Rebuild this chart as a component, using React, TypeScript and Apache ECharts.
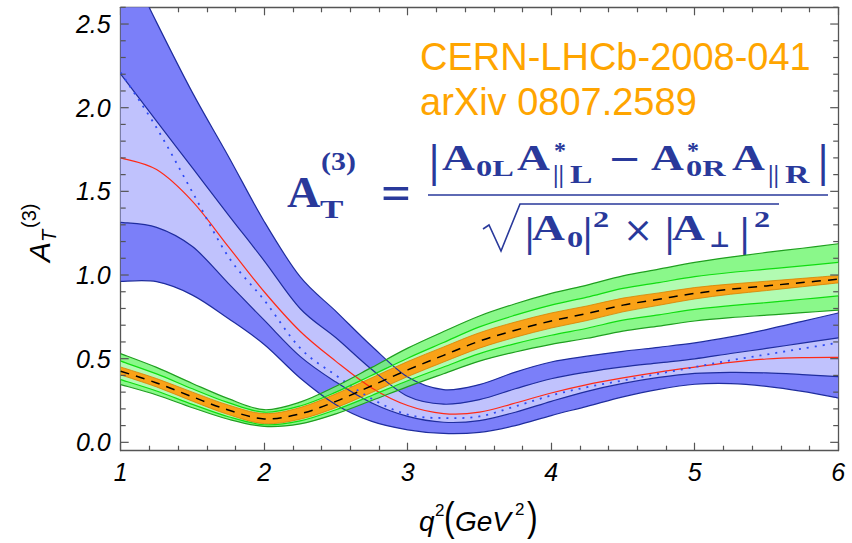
import React, { useEffect, useRef } from 'react';
import * as echarts from 'echarts';

// ---------- data ----------
const xs = [1, 1.25, 1.5, 1.75, 2, 2.25, 2.5, 2.75, 3, 3.25, 3.5, 3.75, 4, 4.25, 4.5, 4.75, 5, 5.25, 5.5, 5.75, 6];

// blue (model) band
const blueOuterHi = [2.95, 2.51, 2.09, 1.71, 1.32, 0.99, 0.783, 0.574, 0.39, 0.315, 0.345, 0.42, 0.48, 0.515, 0.544, 0.568, 0.594, 0.63, 0.674, 0.723, 0.773];
const blueInnerHi = [2.2, 1.92, 1.64, 1.36, 1.085, 0.8, 0.625, 0.435, 0.275, 0.228, 0.255, 0.32, 0.38, 0.42, 0.451, 0.475, 0.499, 0.531, 0.561, 0.593, 0.624];
const redCentral = [1.7, 1.63, 1.44, 1.17, 0.9, 0.664, 0.484, 0.325, 0.22, 0.172, 0.18, 0.235, 0.295, 0.345, 0.385, 0.42, 0.45, 0.478, 0.498, 0.506, 0.508];
const blueDotted = [2.21, 1.88, 1.495, 1.11, 0.85, 0.564, 0.4, 0.26, 0.165, 0.145, 0.155, 0.215, 0.28, 0.33, 0.37, 0.41, 0.45, 0.49, 0.525, 0.56, 0.595];
const blueInnerLo = [1.315, 1.285, 1.17, 0.95, 0.73, 0.514, 0.36, 0.235, 0.155, 0.12, 0.13, 0.18, 0.245, 0.305, 0.352, 0.388, 0.412, 0.418, 0.415, 0.405, 0.393];
const blueOuterLo = [0.962, 0.96, 0.88, 0.74, 0.585, 0.385, 0.225, 0.125, 0.075, 0.053, 0.06, 0.1, 0.16, 0.215, 0.272, 0.317, 0.347, 0.351, 0.335, 0.305, 0.265];

// green / orange (SM) band
const greenOuterHi = [0.53, 0.448, 0.352, 0.261, 0.195, 0.24, 0.335, 0.448, 0.563, 0.662, 0.755, 0.828, 0.89, 0.94, 0.995, 1.035, 1.075, 1.107, 1.135, 1.16, 1.187];
const greenInnerHi = [0.485, 0.409, 0.32, 0.237, 0.18, 0.217, 0.3, 0.401, 0.503, 0.597, 0.69, 0.76, 0.82, 0.868, 0.92, 0.955, 0.99, 1.015, 1.035, 1.055, 1.075];
const orangeHi = [0.45, 0.381, 0.3, 0.223, 0.172, 0.208, 0.29, 0.386, 0.483, 0.57, 0.655, 0.719, 0.773, 0.815, 0.862, 0.893, 0.925, 0.946, 0.963, 0.98, 0.997];
const blackDashed = [0.425, 0.355, 0.272, 0.193, 0.14, 0.17, 0.245, 0.338, 0.433, 0.52, 0.605, 0.67, 0.725, 0.77, 0.82, 0.855, 0.89, 0.915, 0.935, 0.955, 0.975];
const orangeLo = [0.403, 0.331, 0.246, 0.166, 0.112, 0.138, 0.207, 0.298, 0.393, 0.48, 0.563, 0.628, 0.683, 0.728, 0.78, 0.819, 0.857, 0.885, 0.907, 0.93, 0.953];
const greenInnerLo = [0.375, 0.307, 0.227, 0.153, 0.105, 0.128, 0.195, 0.28, 0.368, 0.45, 0.53, 0.59, 0.64, 0.682, 0.73, 0.762, 0.795, 0.817, 0.835, 0.855, 0.875];
const greenOuterLo = [0.345, 0.283, 0.207, 0.138, 0.095, 0.11, 0.17, 0.25, 0.333, 0.41, 0.485, 0.54, 0.585, 0.622, 0.665, 0.695, 0.725, 0.745, 0.76, 0.775, 0.79];

// axes
const xTickValues = [1, 2, 3, 4, 5, 6];
const xTickLabels = ['1', '2', '3', '4', '5', '6'];
const yTickValues = [0, 0.5, 1, 1.5, 2, 2.5];
const yTickLabels = ['0.0', '0.5', '1.0', '1.5', '2.0', '2.5'];
const yMinorTicks = Array.from({ length: 27 }, (_, k) => k / 10);

// ---------- styling ----------
const FRAME = '#555555';
const NAVY = '#29399b';
const SERIF = '"Liberation Serif", "DejaVu Serif", serif';
const DJ = '"DejaVu Serif", serif';
const SANS = '"Liberation Sans", Arial, sans-serif';

function curve(pts: number[][], move: boolean): string {
  let d = (move ? 'M' : 'L') + pts[0][0] + ',' + pts[0][1];
  for (let i = 0; i < pts.length - 1; i++) {
    const p0 = pts[Math.max(i - 1, 0)];
    const p1 = pts[i];
    const p2 = pts[i + 1];
    const p3 = pts[Math.min(i + 2, pts.length - 1)];
    const c1x = p1[0] + (p2[0] - p0[0]) / 6;
    const c1y = p1[1] + (p2[1] - p0[1]) / 6;
    const c2x = p2[0] - (p3[0] - p1[0]) / 6;
    const c2y = p2[1] - (p3[1] - p1[1]) / 6;
    d += ' C' + c1x + ',' + c1y + ' ' + c2x + ',' + c2y + ' ' + p2[0] + ',' + p2[1];
  }
  return d;
}

function bandSeries(upper: number[], lower: number[], fill: string, z: number, opacity = 1) {
  return {
    type: 'custom',
    coordinateSystem: 'cartesian2d',
    clip: true,
    silent: true,
    z,
    data: [[xs[0], lower[0]]],
    renderItem: (_p: any, api: any) => {
      const top = xs.map((x, i) => api.coord([x, upper[i]]));
      const bot = xs.map((x, i) => api.coord([x, lower[i]])).reverse();
      const d = curve(top, true) + ' ' + curve(bot, false) + ' Z';
      return { type: 'path', shape: { pathData: d }, style: { fill, stroke: null, opacity } };
    },
  };
}

function lineSeries(vals: number[], stroke: string, width: number, z: number, dash?: number[]) {
  return {
    type: 'custom',
    coordinateSystem: 'cartesian2d',
    clip: true,
    silent: true,
    z,
    data: [[xs[0], vals[0]]],
    renderItem: (_p: any, api: any) => {
      const pts = xs.map((x, i) => api.coord([x, vals[i]]));
      return {
        type: 'path',
        shape: { pathData: curve(pts, true) },
        style: { fill: null, stroke, lineWidth: width, lineDash: dash || null, lineCap: 'butt' },
      };
    },
  };
}

function tx(text: string, x: number, base: number, size: number, o: any = {}) {
  return {
    type: 'text',
    x,
    y: base - 0.34 * size * (o.sy || 1),
    scaleX: o.sx || 1,
    scaleY: o.sy || 1,
    silent: true,
    style: {
      text,
      fill: o.fill || NAVY,
      fontSize: size,
      fontFamily: o.family || SERIF,
      fontWeight: o.weight || 'bold',
      fontStyle: o.italic ? 'italic' : 'normal',
      textAlign: 'left',
      textVerticalAlign: 'middle',
      verticalAlign: 'middle',
    },
  };
}

function labelFor(v: number, vals: number[], labels: string[]) {
  for (let i = 0; i < vals.length; i++) if (Math.abs(v - vals[i]) < 1e-6) return labels[i];
  return '';
}

export default function App() {
  const ref = useRef<HTMLDivElement>(null);
  useEffect(() => {
    if (!ref.current) return;
    const chart = echarts.init(ref.current, null, { renderer: 'svg' });

    const axisLabelStyle = {
      fontSize: 25,
      fontStyle: 'italic',
      fontFamily: SANS,
      color: '#000',
    };

    const W = { sx: 1.3 };
    const S = { sx: 1.35 };
    const formula = [
      tx('A', 287, 207, 44, { sx: 1.05 }),
      tx('T', 320, 218, 26, S),
      tx('(3)', 321, 170, 26, { sx: 1.15 }),
      tx('=', 381, 209, 48, { sx: 1.1 }),
      // numerator
      tx('|', 429, 176, 46),
      tx('A', 442, 170, 35, W),
      tx('0L', 476, 176, 24, S),
      tx('A', 517, 170, 35, W),
      tx('*', 554, 158, 24),
      tx('||', 553, 183, 25),
      tx('L', 570, 183, 25, S),
      tx('\u2212', 608, 172, 40, { family: DJ, weight: 'normal' }),
      tx('A', 651, 170, 35, W),
      tx('*', 687, 158, 24),
      tx('0R', 686, 176, 24, S),
      tx('A', 732, 170, 35, W),
      tx('||', 768, 183, 25),
      tx('R', 785, 183, 25, S),
      tx('|', 818, 176, 46),
      // denominator
      tx('|', 525, 246, 42),
      tx('A', 532, 240, 35, W),
      tx('0', 567, 247, 24, S),
      tx('|', 583, 246, 42),
      tx('2', 593, 227, 24, S),
      tx('\u00d7', 623, 242, 36, { family: DJ, weight: 'normal' }),
      tx('|', 665, 246, 42),
      tx('A', 672, 240, 35, W),
      tx('\u22a5', 709, 246, 22, { family: DJ }),
      tx('|', 740, 246, 42),
      tx('2', 754, 227, 24, S),
      {
        type: 'line',
        silent: true,
        shape: { x1: 428, y1: 195, x2: 828, y2: 195 },
        style: { stroke: NAVY, lineWidth: 1.6 },
      },
      {
        type: 'polyline',
        silent: true,
        shape: { points: [[483, 229], [489, 225], [501, 251], [520, 204], [779, 204]] },
        style: { stroke: NAVY, lineWidth: 1.6, fill: null },
      },
    ];

    const notes = [
      tx('CERN-LHCb-2008-041', 420, 70, 38, { fill: '#ffa500', family: SANS, weight: 'normal' }),
      tx('arXiv 0807.2589', 420, 115, 38, { fill: '#ffa500', family: SANS, weight: 'normal' }),
    ];

    const blk = { fill: '#000', family: SANS, weight: 'normal' };
    const xName = [
      tx('q', 419, 531, 28, { ...blk, italic: true }),
      tx('2', 435, 516, 17, blk),
      tx('(', 444, 531, 40, { ...blk, sx: 0.8 }),
      tx('GeV', 455, 531, 28, { ...blk, italic: true }),
      tx('2', 515, 515, 17, blk),
      tx(')', 527, 531, 40, { ...blk, sx: 0.8 }),
    ];

    const yName = {
      type: 'group',
      x: 50,
      y: 262,
      rotation: Math.PI / 2,
      children: [
        tx('A', 0, 0, 30, { ...blk, italic: true }),
        tx('T', 20, 6, 20, { ...blk, italic: true }),
        tx('(3)', 34, -14, 20, blk),
      ],
    };

    const xAxisBase = {
      type: 'value',
      min: 1,
      max: 6,
      interval: 1,
      splitLine: { show: false },
      axisLine: { show: true, onZero: false, lineStyle: { color: FRAME, width: 1.3 } },
      axisTick: { show: true, inside: true, length: 8, lineStyle: { color: FRAME, width: 1.2 } },
      minorTick: { show: true, splitNumber: 5, length: 5, lineStyle: { color: FRAME, width: 1.2 } },
      minorSplitLine: { show: false },
    };

    const option: any = {
      animation: false,
      backgroundColor: '#ffffff',
      grid: { left: 120.7, right: 13.8, top: 7.3, bottom: 92.3, containLabel: false },
      xAxis: [
        {
          ...xAxisBase,
          position: 'bottom',
          axisLabel: {
            ...axisLabelStyle,
            margin: 9,
            formatter: (v: number) => labelFor(v, xTickValues, xTickLabels),
          },
        },
        { ...xAxisBase, position: 'top', axisLabel: { show: false } },
      ],
      yAxis: [
        {
          type: 'value',
          position: 'left',
          min: -0.05,
          max: 2.6,
          interval: 0.05,
          splitLine: { show: false },
          axisTick: { show: false },
          axisLine: { show: true, onZero: false, lineStyle: { color: FRAME, width: 1.3 } },
          axisLabel: {
            ...axisLabelStyle,
            margin: 10,
            formatter: (v: number) => labelFor(v, yTickValues, yTickLabels),
          },
        },
        {
          type: 'value',
          position: 'right',
          min: -0.05,
          max: 2.6,
          interval: 0.05,
          splitLine: { show: false },
          axisTick: { show: false },
          axisLabel: { show: false },
          axisLine: { show: true, onZero: false, lineStyle: { color: FRAME, width: 1.3 } },
        },
      ],
      series: [
        // blue band fills
        bandSeries(blueOuterHi, blueOuterLo, '#7b7ff9', 2),
        bandSeries(blueInnerHi, blueInnerLo, '#c0c2fd', 3),
        // green / orange fills
        bandSeries(greenOuterHi, greenOuterLo, '#76f776', 4, 0.85),
        bandSeries(greenInnerHi, greenInnerLo, '#b9fbb9', 5, 0.85),
        bandSeries(orangeHi, orangeLo, '#ff9a0a', 6, 0.92),
        // blue lines
        lineSeries(blueOuterHi, '#1f2d9e', 1.2, 7),
        lineSeries(blueInnerHi, '#1f2d9e', 1.2, 7),
        lineSeries(blueInnerLo, '#1f2d9e', 1.2, 7),
        lineSeries(blueOuterLo, '#1f2d9e', 1.2, 7),
        lineSeries(redCentral, '#ff2a16', 1.2, 8),
        lineSeries(blueDotted, '#2e4bf5', 1.8, 8, [2, 6]),
        // green lines
        lineSeries(greenOuterHi, '#1f9f1f', 1.2, 9),
        lineSeries(greenOuterLo, '#1f9f1f', 1.2, 9),
        lineSeries(greenInnerHi, '#11dd11', 1.2, 9),
        lineSeries(greenInnerLo, '#11dd11', 1.2, 9),
        lineSeries(orangeHi, '#d88000', 0.8, 9),
        lineSeries(orangeLo, '#d88000', 0.8, 9),
        lineSeries(blackDashed, '#000000', 1.5, 10, [9, 7]),
        // y-axis ticks (left and right frame)
        {
          type: 'custom',
          coordinateSystem: 'cartesian2d',
          silent: true,
          z: 12,
          data: yMinorTicks.map((v) => [1, v]),
          renderItem: (_p: any, api: any) => {
            const v = api.value(1);
            const a = api.coord([1, v]);
            const b = api.coord([6, v]);
            const major = Math.abs(v * 2 - Math.round(v * 2)) < 1e-6;
            const len = major ? 8 : 5;
            return {
              type: 'group',
              children: [
                { type: 'line', shape: { x1: a[0], y1: a[1], x2: a[0] + len, y2: a[1] }, style: { stroke: FRAME, lineWidth: 1.2 } },
                { type: 'line', shape: { x1: b[0] - len, y1: b[1], x2: b[0], y2: b[1] }, style: { stroke: FRAME, lineWidth: 1.2 } },
              ],
            };
          },
        },
      ],
      graphic: [...notes, ...formula, ...xName, yName],
    };

    chart.setOption(option);
    return () => chart.dispose();
  }, []);

  return (
    <div
      ref={ref}
      style={{ position: 'fixed', left: 0, top: 0, width: 852, height: 543, background: '#fff' }}
    />
  );
}
